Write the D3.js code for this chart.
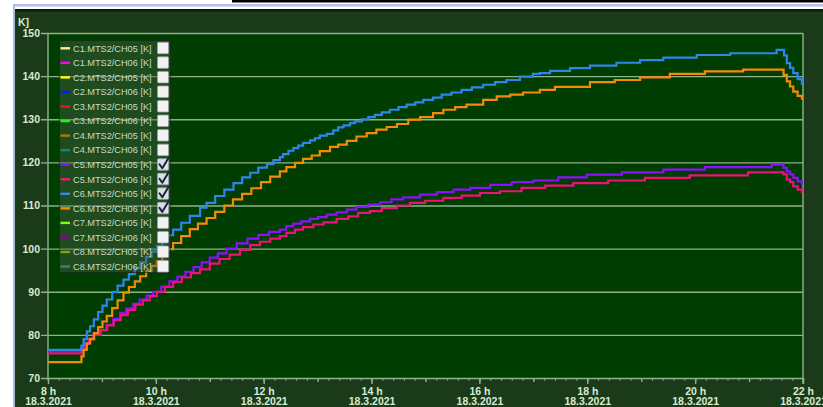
<!DOCTYPE html>
<html>
<head>
<meta charset="utf-8">
<script src="https://cdn.jsdelivr.net/npm/d3@7"></script>
<style>
  html, body { margin: 0; padding: 0; background: #ffffff; }
  svg { display: block; }
  text { font-family: "Liberation Sans", Arial, sans-serif; }
</style>
</head>
<body>
<svg id="chart" width="823" height="407"></svg>
<script>
// Temperature log, 18.3.2021, hours of the day vs. kelvin
const yTicks = [70, 80, 90, 100, 110, 120, 130, 140, 150];
const xTicks = [8, 10, 12, 14, 16, 18, 20, 22];
const dateLabel = "18.3.2021";
const unitLabel = "K]";

// C5.MTS2/CH05
const c5ch05Hours = [8.00, 8.59, 8.62, 8.68, 8.76, 8.84, 8.96, 9.08, 9.21, 9.335, 9.45, 9.58, 9.70, 9.83, 9.95,
  10.10, 10.25, 10.40, 10.55, 10.70, 10.85, 11.00, 11.15, 11.31, 11.50, 11.70, 11.90, 12.10, 12.30,
  12.42, 12.55, 12.70, 12.86, 13.01, 13.17, 13.35, 13.54, 13.72, 13.94, 14.16, 14.37, 14.59, 14.90,
  15.21, 15.52, 15.83, 16.20, 16.60, 17.00, 17.46, 17.99, 18.64, 19.41, 20.18, 21.42, 21.60,
  21.64, 21.70, 21.76, 21.82, 21.90, 21.98];
const c5ch05Kelvin = [76.2, 76.2, 77.0, 78.2, 79.2, 80.0, 81.1, 82.3, 83.7, 85.1, 86.1, 87.2, 88.2, 89.1, 90.0,
  91.2, 92.4, 93.5, 94.6, 95.7, 96.8, 97.9, 98.9, 100.0, 101.2, 102.3, 103.2, 103.9, 104.4,
  105.2, 105.8, 106.3, 106.9, 107.3, 107.9, 108.4, 109.05, 109.7, 110.2, 110.75, 111.4, 111.9, 112.5,
  113.1, 113.7, 114.1, 114.8, 115.4, 115.8, 116.5, 117.15, 117.7, 118.3, 118.9, 119.5, 119.5,
  118.7, 117.9, 117.2, 116.4, 115.6, 114.8];

// C5.MTS2/CH06
const c5ch06Hours = [8.00, 8.59, 8.62, 8.68, 8.76, 8.86, 8.98, 9.10, 9.22, 9.35, 9.48, 9.62, 9.76, 9.89, 10.02,
  10.17, 10.32, 10.48, 10.65, 10.82, 11.00, 11.18, 11.37, 11.56, 11.75, 11.93, 12.12, 12.30,
  12.42, 12.58, 12.73, 12.92, 13.11, 13.35, 13.57, 13.75, 13.97, 14.19, 14.47, 14.71, 14.99,
  15.33, 15.67, 16.01, 16.38, 16.78, 17.22, 17.74, 18.39, 19.07, 19.90, 20.98, 21.60,
  21.64, 21.70, 21.76, 21.82, 21.90, 21.98];
const c5ch06Kelvin = [75.7, 75.7, 76.6, 77.9, 79.0, 80.0, 81.1, 82.2, 83.4, 84.6, 85.8, 87.0, 88.0, 89.0, 90.0,
  91.1, 92.2, 93.3, 94.3, 95.2, 96.5, 97.6, 98.6, 99.7, 100.8, 101.6, 102.3, 102.9,
  103.65, 104.4, 105.0, 105.6, 106.1, 106.9, 107.5, 108.3, 108.7, 109.4, 110.0, 110.6, 111.1,
  111.75, 112.3, 112.9, 113.3, 114.07, 114.6, 115.2, 115.8, 116.4, 117.0, 117.7, 117.7,
  117.2, 116.0, 115.4, 114.45, 113.7, 112.9];

// C6.MTS2/CH05
const c6ch05Hours = [8.00, 8.594, 8.62, 8.66, 8.72, 8.78, 8.85, 8.93, 9.01, 9.09, 9.19, 9.29, 9.40, 9.50, 9.61,
  9.71, 9.82, 9.92, 10.02, 10.12, 10.22, 10.32, 10.47, 10.63, 10.82, 10.94, 11.10, 11.27, 11.44,
  11.60, 11.75, 11.90, 12.06, 12.18, 12.30, 12.36, 12.46, 12.55, 12.64, 12.73, 12.86, 12.95, 13.04,
  13.17, 13.29, 13.38, 13.48, 13.60, 13.69, 13.82, 13.94, 14.06, 14.19, 14.34, 14.50, 14.65, 14.81,
  14.96, 15.14, 15.30, 15.48, 15.67, 15.86, 16.07, 16.29, 16.50, 16.75, 16.99, 17.12, 17.31, 17.68,
  18.05, 18.54, 18.98, 19.41, 20.03, 20.65, 21.51, 21.59, 21.65, 21.70, 21.76, 21.82, 21.90, 21.98];
const c6ch05Kelvin = [76.5, 76.5, 77.5, 79.0, 80.8, 82.0, 83.6, 85.3, 86.8, 88.2, 89.9, 91.4, 92.8, 94.1, 95.5,
  96.8, 98.1, 99.3, 100.6, 101.9, 103.1, 104.4, 106.0, 107.6, 109.5, 110.6, 112.2, 113.7, 115.2,
  116.5, 117.6, 118.8, 119.6, 120.5, 121.2, 121.9, 122.7, 123.3, 123.9, 124.5, 125.1, 125.6, 126.2,
  126.6, 127.4, 128.1, 128.6, 129.1, 129.5, 130.0, 130.5, 131.0, 131.6, 132.2, 132.8, 133.4, 133.9,
  134.5, 135.0, 135.7, 136.2, 136.8, 137.4, 138.0, 138.6, 139.1, 139.9, 140.5, 140.7, 141.2, 141.85,
  142.45, 143.1, 143.7, 144.3, 144.9, 145.3, 146.1, 146.1, 144.8, 143.0, 141.9, 140.7, 139.3, 138.0];

// C6.MTS2/CH06
const c6ch06Hours = [8.00, 8.59, 8.62, 8.66, 8.72, 8.78, 8.85, 8.93, 9.01, 9.09, 9.19, 9.29, 9.40, 9.50, 9.61,
  9.71, 9.82, 9.92, 10.02, 10.12, 10.22, 10.32, 10.47, 10.63, 10.78, 10.94, 11.10, 11.27, 11.43,
  11.60, 11.77, 11.95, 12.12, 12.30, 12.42, 12.58, 12.73, 12.89, 13.04, 13.23, 13.38, 13.54, 13.72,
  13.91, 14.09, 14.28, 14.47, 14.68, 14.90, 15.14, 15.33, 15.55, 15.76, 16.07, 16.32, 16.57, 16.81,
  17.12, 17.40, 18.05, 18.51, 18.98, 19.53, 20.18, 20.89, 21.59, 21.64, 21.70, 21.76, 21.82, 21.90, 21.98];
const c6ch06Kelvin = [73.7, 73.7, 75.0, 76.5, 78.0, 79.0, 80.4, 81.8, 83.1, 84.4, 86.2, 88.0, 89.8, 91.1, 92.4,
  93.6, 94.8, 96.0, 97.1, 98.5, 99.9, 101.3, 102.9, 104.5, 105.8, 107.1, 108.5, 110.0, 111.4,
  112.7, 114.0, 115.4, 116.7, 117.9, 118.9, 119.9, 120.8, 121.6, 122.6, 123.6, 124.1, 125.0, 126.0,
  126.8, 127.6, 128.2, 128.9, 129.9, 130.5, 131.4, 132.2, 132.8, 133.4, 134.5, 135.3, 135.7, 136.2,
  136.8, 137.5, 138.6, 139.1, 139.7, 140.5, 141.1, 141.5, 141.5, 140.3, 138.8, 137.6, 136.4, 135.4, 134.5];

// Legend channels
const legendLabels = ["C1.MTS2/CH05 [K]", "C1.MTS2/CH06 [K]", "C2.MTS2/CH05 [K]", "C2.MTS2/CH06 [K]",
  "C3.MTS2/CH05 [K]", "C3.MTS2/CH06 [K]", "C4.MTS2/CH05 [K]", "C4.MTS2/CH06 [K]",
  "C5.MTS2/CH05 [K]", "C5.MTS2/CH06 [K]", "C6.MTS2/CH05 [K]", "C6.MTS2/CH06 [K]",
  "C7.MTS2/CH05 [K]", "C7.MTS2/CH06 [K]", "C8.MTS2/CH05 [K]", "C8.MTS2/CH06 [K]"];
const legendColors = ["#f4f0a0", "#ff00ff", "#ffff00", "#0020ff", "#ff1010", "#10ff10", "#b07800", "#008a8a",
  "#8a10ff", "#ff107a", "#3088f0", "#ff8a00", "#80ff10", "#8a0090", "#88a000", "#3c8080"];
const legendChecked = [false, false, false, false, false, false, false, false,
  true, true, true, true, false, false, false, false];

const series = [
  { hours: c5ch05Hours, kelvin: c5ch05Kelvin, color: "#8a10ff" },
  { hours: c5ch06Hours, kelvin: c5ch06Kelvin, color: "#f0107a" },
  { hours: c6ch05Hours, kelvin: c6ch05Kelvin, color: "#2f86ea" },
  { hours: c6ch06Hours, kelvin: c6ch06Kelvin, color: "#f68a08" }
];

const svg = d3.select("#chart");
const W = 823, H = 407;
const plot = { left: 48, right: 803, top: 33, bottom: 378 };

const x = d3.scaleLinear().domain([8, 22]).range([plot.left, plot.right]);
const y = d3.scaleLinear().domain([70, 150]).range([plot.bottom, plot.top]);

// window chrome above the panel
svg.append("rect").attr("x", 232).attr("y", 0).attr("width", W - 232).attr("height", 2.5).attr("fill", "#000");
svg.append("rect").attr("x", 13).attr("y", 4).attr("width", W - 13).attr("height", 2.6).attr("fill", "#b8c3da");

// outer panel
svg.append("rect").attr("x", 15).attr("y", 9).attr("width", W - 15).attr("height", H - 9).attr("fill", "#1b3a1a");
svg.append("rect").attr("x", 15).attr("y", 9).attr("width", W - 15).attr("height", 2.5).attr("fill", "#0d1d0c");
svg.append("rect").attr("x", 13).attr("y", 4).attr("width", 2).attr("height", H - 4).attr("fill", "#a9badb");

// plot area
svg.append("rect")
  .attr("x", plot.left).attr("y", plot.top)
  .attr("width", plot.right - plot.left).attr("height", plot.bottom - plot.top)
  .attr("fill", "#003d00");

const gridColor = "#8fb28b";
const textColor = "#d6ecd0";

// horizontal grid lines
const grid = svg.append("g")
  .attr("transform", `translate(${plot.right},0)`)
  .call(d3.axisLeft(y).tickValues(yTicks).tickSize(plot.right - 41).tickFormat(""));
grid.select(".domain").remove();
grid.selectAll("line").attr("stroke", gridColor).attr("stroke-width", 1.4);

// y labels
const yAxis = svg.append("g")
  .attr("transform", `translate(${plot.left},0)`)
  .call(d3.axisLeft(y).tickValues(yTicks).tickSize(0).tickPadding(8).tickFormat(d3.format("d")));
yAxis.select(".domain").remove();
yAxis.selectAll("text")
  .attr("fill", textColor).attr("font-size", "10.5px").attr("font-weight", "bold")
  .attr("font-family", "'Liberation Sans', Arial, sans-serif");

// left and right frame lines of the plot
svg.append("line").attr("x1", plot.left).attr("x2", plot.left).attr("y1", plot.top).attr("y2", plot.bottom + 2)
  .attr("stroke", gridColor).attr("stroke-width", 1.4);
svg.append("line").attr("x1", plot.right).attr("x2", plot.right).attr("y1", plot.top).attr("y2", plot.bottom + 6)
  .attr("stroke", gridColor).attr("stroke-width", 1.4);

// x axis: minor (12 min), hour and labelled ticks
const minorTicks = d3.range(0, 71).map(i => 8 + i * 0.2);
const hourTicks = d3.range(8, 23);
const xMinor = svg.append("g").attr("transform", `translate(0,${plot.bottom})`)
  .call(d3.axisBottom(x).tickValues(minorTicks).tickSize(2.5).tickFormat(""));
xMinor.select(".domain").remove();
xMinor.selectAll("line").attr("stroke", gridColor).attr("stroke-width", 1.2);
const xHour = svg.append("g").attr("transform", `translate(0,${plot.bottom})`)
  .call(d3.axisBottom(x).tickValues(hourTicks).tickSize(4).tickFormat(""));
xHour.select(".domain").remove();
xHour.selectAll("line").attr("stroke", gridColor).attr("stroke-width", 1.3);

const xAxis = svg.append("g").attr("transform", `translate(0,${plot.bottom})`)
  .call(d3.axisBottom(x).tickValues(xTicks).tickSize(6).tickFormat(""));
xAxis.select(".domain").remove();
xAxis.selectAll("line").attr("stroke", gridColor).attr("stroke-width", 1.4);
xAxis.selectAll(".tick").each(function (d) {
  const t = d3.select(this).append("text")
    .attr("fill", textColor).attr("font-size", "10.5px").attr("font-weight", "bold")
    .attr("text-anchor", "middle")
    .attr("font-family", "'Liberation Sans', Arial, sans-serif");
  t.append("tspan").attr("x", 0).attr("y", 16.5).text(`${d} h`);
  t.append("tspan").attr("x", 0).attr("y", 27).text(dateLabel);
});

// unit label
svg.append("text").attr("x", 18).attr("y", 25.5).text(unitLabel)
  .attr("fill", textColor).attr("font-size", "10.5px").attr("font-weight", "bold");

// data lines
const line = d3.line()
  .x(d => x(d.h))
  .y(d => y(d.v))
  .curve(d3.curveStepAfter);

svg.append("clipPath").attr("id", "plotClip").append("rect")
  .attr("x", plot.left).attr("y", plot.top - 2)
  .attr("width", plot.right - plot.left).attr("height", plot.bottom - plot.top + 2);

const lines = svg.append("g").attr("clip-path", "url(#plotClip)");
series.forEach(s => {
  const pts = s.hours.map((h, i) => ({ h, v: s.kelvin[i] }));
  lines.append("path")
    .datum(pts)
    .attr("d", line)
    .attr("fill", "none")
    .attr("stroke", s.color)
    .attr("stroke-width", 2.2)
    .attr("stroke-linejoin", "miter");
});

// legend
const legend = svg.append("g");
const rowStep = 14.55, rowTop = 48.3;
legend.append("rect")
  .attr("x", 59.5).attr("y", 40.5).attr("width", 111).attr("height", 232)
  .attr("fill", "rgba(72,98,72,0.42)")
  .attr("stroke", "rgba(20,40,20,0.6)").attr("stroke-width", 1);

legendLabels.forEach((lab, i) => {
  const cy = rowTop + i * rowStep;
  const g = legend.append("g");
  g.append("line").attr("x1", 60.5).attr("x2", 70).attr("y1", cy).attr("y2", cy)
    .attr("stroke", legendColors[i]).attr("stroke-width", 2.4);
  g.append("text").attr("x", 73).attr("y", cy + 3.3).text(lab)
    .attr("fill", "#c8dcc6").attr("font-size", "9.2px");
  g.append("rect").attr("x", 157.5).attr("y", cy - 6).attr("width", 11).attr("height", 11.5)
    .attr("fill", legendChecked[i] ? "#d8dfea" : "#f2f2f2")
    .attr("stroke", "#9aa2a8").attr("stroke-width", 0.8).attr("rx", 1);
  if (legendChecked[i]) {
    g.append("path")
      .attr("d", `M ${159.5} ${cy - 0.5} L ${162.3} ${cy + 3.5} L ${168.6} ${cy - 7}`)
      .attr("fill", "none").attr("stroke", "#1c2434").attr("stroke-width", 2)
      .attr("stroke-linecap", "round").attr("stroke-linejoin", "round");
  }
});
</script>
</body>
</html>
